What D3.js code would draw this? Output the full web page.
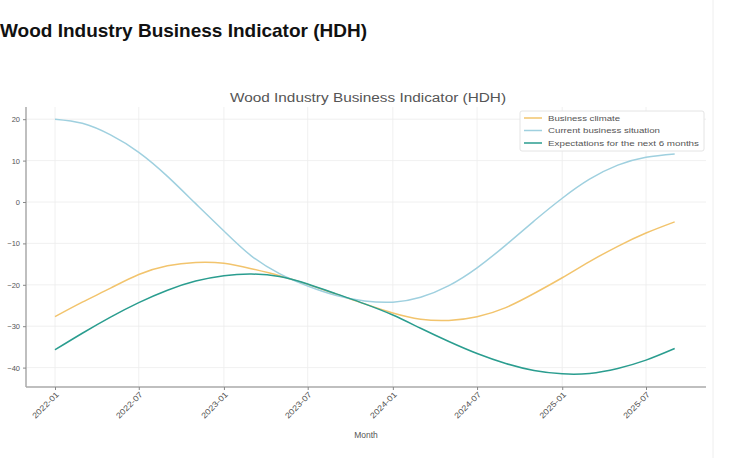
<!DOCTYPE html>
<html><head><meta charset="utf-8">
<script src="https://cdn.jsdelivr.net/npm/d3@7"></script>
<style>body{margin:0;background:#fff;font-family:"Liberation Sans",Arial,sans-serif;}</style>
</head><body><div id="chart"></div>
<script>
const months = ["2022-01","2022-03","2022-05","2022-07","2022-09","2022-11","2023-01","2023-03","2023-05","2023-07","2023-09","2023-11","2024-01","2024-03","2024-05","2024-07","2024-09","2024-11","2025-01","2025-03","2025-05","2025-07","2025-09"];
const businessClimate = [-27.7,-24.2,-20.8,-17.5,-15.4,-14.6,-14.8,-16.1,-17.8,-19.9,-22.3,-24.6,-26.8,-28.3,-28.6,-27.7,-25.5,-22.1,-18.3,-14.4,-10.7,-7.5,-4.8];
const currentSituation = [20,19,16.2,12,6.2,-0.4,-7,-13,-17.3,-20.3,-22.6,-23.9,-24.2,-23,-20.2,-15.9,-10.4,-4.6,0.9,5.5,8.9,10.8,11.6];
const expectations = [-35.7,-31.7,-27.8,-24.3,-21.3,-19.1,-17.8,-17.4,-18,-19.8,-22.2,-24.6,-27.3,-30.5,-33.7,-36.6,-39,-40.7,-41.5,-41.4,-40.2,-38.2,-35.4];
const seriesNames = ["Business climate","Current business situation","Expectations for the next 6 months"];
const seriesColors = ["#f2c46d","#9fd0df","#2a9d8f"];
const xTickLabels = ["2022-01","2022-07","2023-01","2023-07","2024-01","2024-07","2025-01","2025-07"];
const yTicks = [20,10,0,-10,-20,-30,-40];

const W=734,H=458;
const svg=d3.select("#chart").append("svg").attr("width",W).attr("height",H);
svg.append("text").attr("x",0).attr("y",37).attr("font-size",19).attr("font-weight","bold").attr("fill","#111").text("Wood Industry Business Indicator (HDH)");
svg.append("line").attr("x1",713).attr("x2",713).attr("y1",0).attr("y2",H).attr("stroke","#eee");

const parse=d3.timeParse("%Y-%m");
const dates=months.map(parse);
const x=d3.scaleTime().domain([parse("2022-01"),parse("2025-07")]).range([55,646]);
const y=d3.scaleLinear().domain([-40,20]).range([367.6,119.2]);
const L=26,R=706,T=107,B=387;

const g=svg.append("g");
g.selectAll(".gx").data(xTickLabels).join("line").attr("x1",d=>x(parse(d))).attr("x2",d=>x(parse(d))).attr("y1",T).attr("y2",B).attr("stroke","#ececec").attr("stroke-width",0.8);
g.selectAll(".gy").data(yTicks).join("line").attr("x1",L).attr("x2",R).attr("y1",d=>y(d)).attr("y2",d=>y(d)).attr("stroke","#ececec").attr("stroke-width",0.8);

const xAxis=d3.axisBottom(x).tickValues(xTickLabels.map(parse)).tickFormat(d3.timeFormat("%Y-%m")).tickSize(3).tickSizeOuter(0);
const xg=svg.append("g").attr("transform",`translate(0,${B})`).call(xAxis);
xg.select(".domain").attr("d",`M${L},0H${R}`).attr("stroke","#aaa").attr("stroke-width",1.5);
xg.selectAll(".tick line").attr("stroke","#888");
xg.selectAll(".tick text").attr("font-size",8).attr("fill","#555").attr("text-anchor","end").attr("dy",0).attr("dx",0)
  .attr("textLength",34).attr("lengthAdjust","spacingAndGlyphs")
  .attr("transform","translate(4,8) rotate(-45)").attr("y",0).attr("x",0);
const yAxis=d3.axisLeft(y).tickValues(yTicks).tickFormat(d=>d<0?"\u2212"+Math.abs(d):d).tickSize(3).tickSizeOuter(0);
const yg=svg.append("g").attr("transform",`translate(${L},0)`).call(yAxis);
yg.select(".domain").attr("d",`M0,${T}V${B}`).attr("stroke","#aaa").attr("stroke-width",1.5);
yg.selectAll(".tick line").attr("stroke","#888");
yg.selectAll(".tick text").attr("font-size",7.5).attr("fill","#555");

svg.append("text").attr("x",368).attr("y",101.5).attr("text-anchor","middle").attr("font-size",12).attr("fill","#555")
  .attr("textLength",276).attr("lengthAdjust","spacingAndGlyphs").text("Wood Industry Business Indicator (HDH)");
svg.append("text").attr("x",366).attr("y",438).attr("text-anchor","middle").attr("font-size",8.5).attr("fill","#555").text("Month");

const data=[businessClimate,currentSituation,expectations];
const line=d3.line().x((d,i)=>x(dates[i])).y(d=>y(d)).curve(d3.curveNatural);
data.forEach((s,k)=>{
  svg.append("path").datum(s).attr("d",line).attr("fill","none").attr("stroke",seriesColors[k]).attr("stroke-width",1.5);
});

const legendLens=[72,112,151];
const lg=svg.append("g").attr("transform","translate(520,111)");
lg.append("rect").attr("width",184).attr("height",40).attr("fill","#fff").attr("stroke","#e4e4e4").attr("rx",2);
seriesNames.forEach((n,k)=>{
  lg.append("line").attr("x1",4).attr("x2",22).attr("y1",7+k*12.5).attr("y2",7+k*12.5).attr("stroke",seriesColors[k]).attr("stroke-width",1.5);
  lg.append("text").attr("x",28).attr("y",9.5+k*12.5).attr("font-size",7).attr("fill","#555")
    .attr("textLength",legendLens[k]).attr("lengthAdjust","spacingAndGlyphs").text(n);
});
</script></body></html>
